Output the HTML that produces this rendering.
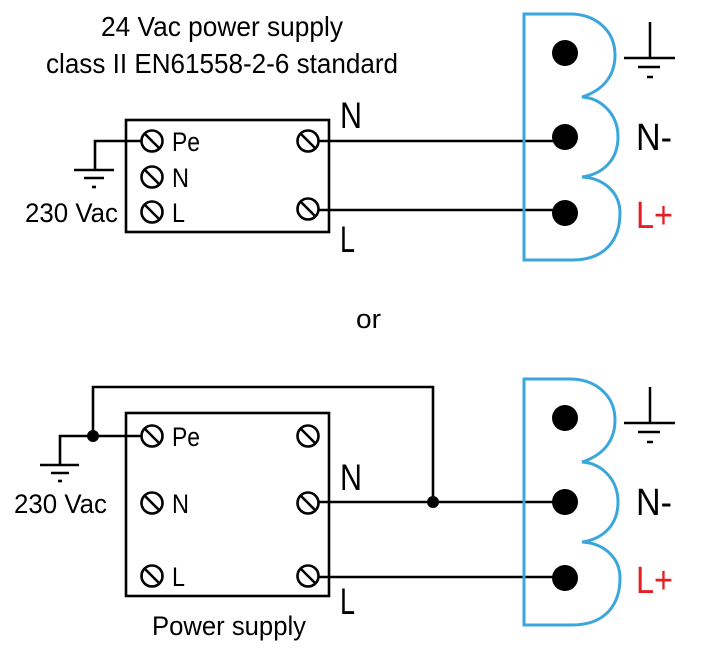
<!DOCTYPE html>
<html><head><meta charset="utf-8"><style>html,body{margin:0;padding:0;background:#fff}svg{display:block}text{font-family:"Liberation Sans",sans-serif}</style></head><body>
<svg width="716" height="662" viewBox="0 0 716 662" xmlns="http://www.w3.org/2000/svg">
<defs>
<g id="scr"><circle cx="0" cy="0" r="10.5" fill="#fff" stroke="#000" stroke-width="2.6"/><line x1="-7" y1="-7" x2="7" y2="7" stroke="#000" stroke-width="2.6"/></g>
<g id="conn">
<path d="M570,14 L524,14 L524,260 L572,260 C605,260 620,240 620,213 C620,192 603,178 582,177 C603,174 618,160 618,137 C618,113 600,98 582,97 C604,90 615,75 615,55 C615,30 595,14 570,14 Z" fill="none" stroke="#3ba6dc" stroke-width="3"/>
<circle cx="565" cy="53" r="13"/><circle cx="565" cy="137" r="13"/><circle cx="565" cy="213" r="13"/>
<g stroke="#000" stroke-width="2.5"><line x1="650" y1="22" x2="650" y2="58"/><line x1="624" y1="58" x2="675" y2="58"/><line x1="638" y1="67" x2="660" y2="67"/><line x1="647" y1="77" x2="653" y2="77"/></g>
<text x="636" y="150" font-size="38" textLength="36" lengthAdjust="spacingAndGlyphs">N-</text>
<text x="636" y="228" font-size="38" fill="#e31e24" textLength="37" lengthAdjust="spacingAndGlyphs">L+</text>
</g>
</defs>
<text x="101" y="36" font-size="28" textLength="242" lengthAdjust="spacingAndGlyphs">24 Vac power supply</text>
<text x="46" y="73" font-size="28" textLength="352" lengthAdjust="spacingAndGlyphs">class II EN61558-2-6 standard</text>
<!-- top -->
<g stroke="#000" stroke-width="2.6" fill="none">
<rect x="126" y="120" width="203" height="112"/>
<polyline points="152,141 95,141 95,170"/>
<line x1="74" y1="170" x2="114" y2="170"/><line x1="84" y1="178" x2="104" y2="178"/><line x1="92" y1="187" x2="96" y2="187"/>
<line x1="308" y1="141" x2="565" y2="141"/><line x1="308" y1="210" x2="565" y2="210"/>
</g>
<use href="#scr" x="152" y="141"/><use href="#scr" x="152" y="177"/><use href="#scr" x="152" y="212"/>
<use href="#scr" x="308" y="141"/><use href="#scr" x="308" y="209"/>
<text x="172" y="151" font-size="27" textLength="28" lengthAdjust="spacingAndGlyphs">Pe</text>
<text x="172" y="187" font-size="27" textLength="17" lengthAdjust="spacingAndGlyphs">N</text>
<text x="172" y="222" font-size="27" textLength="13" lengthAdjust="spacingAndGlyphs">L</text>
<text x="25" y="222" font-size="27" textLength="93" lengthAdjust="spacingAndGlyphs">230 Vac</text>
<text x="340" y="128" font-size="37" textLength="22" lengthAdjust="spacingAndGlyphs">N</text>
<text x="340" y="252" font-size="37" textLength="15" lengthAdjust="spacingAndGlyphs">L</text>
<use href="#conn"/>
<text x="356" y="328" font-size="27" textLength="25" lengthAdjust="spacingAndGlyphs">or</text>
<!-- bottom -->
<g stroke="#000" stroke-width="2.6" fill="none">
<rect x="126" y="413" width="203" height="183"/>
<polyline points="93,436 93,387 433,387 433,502"/>
<polyline points="152,436 60,436 60,465"/>
<line x1="40" y1="465" x2="79" y2="465"/><line x1="51" y1="473" x2="69" y2="473"/><line x1="58" y1="481" x2="62" y2="481"/>
<line x1="308" y1="502" x2="565" y2="502"/><line x1="308" y1="577" x2="565" y2="577"/>
</g>
<circle cx="93" cy="436" r="6"/><circle cx="433" cy="502" r="6"/>
<use href="#scr" x="152" y="436"/><use href="#scr" x="152" y="503"/><use href="#scr" x="152" y="576"/>
<use href="#scr" x="308" y="436"/><use href="#scr" x="308" y="503"/><use href="#scr" x="308" y="576"/>
<text x="172" y="446" font-size="27" textLength="28" lengthAdjust="spacingAndGlyphs">Pe</text>
<text x="172" y="513" font-size="27" textLength="17" lengthAdjust="spacingAndGlyphs">N</text>
<text x="172" y="586" font-size="27" textLength="13" lengthAdjust="spacingAndGlyphs">L</text>
<text x="14" y="513" font-size="27" textLength="93" lengthAdjust="spacingAndGlyphs">230 Vac</text>
<text x="340" y="490" font-size="37" textLength="22" lengthAdjust="spacingAndGlyphs">N</text>
<text x="340" y="614" font-size="37" textLength="15" lengthAdjust="spacingAndGlyphs">L</text>
<text x="152" y="635" font-size="27" textLength="154" lengthAdjust="spacingAndGlyphs">Power supply</text>
<use href="#conn" y="365"/>
</svg>
</body></html>
